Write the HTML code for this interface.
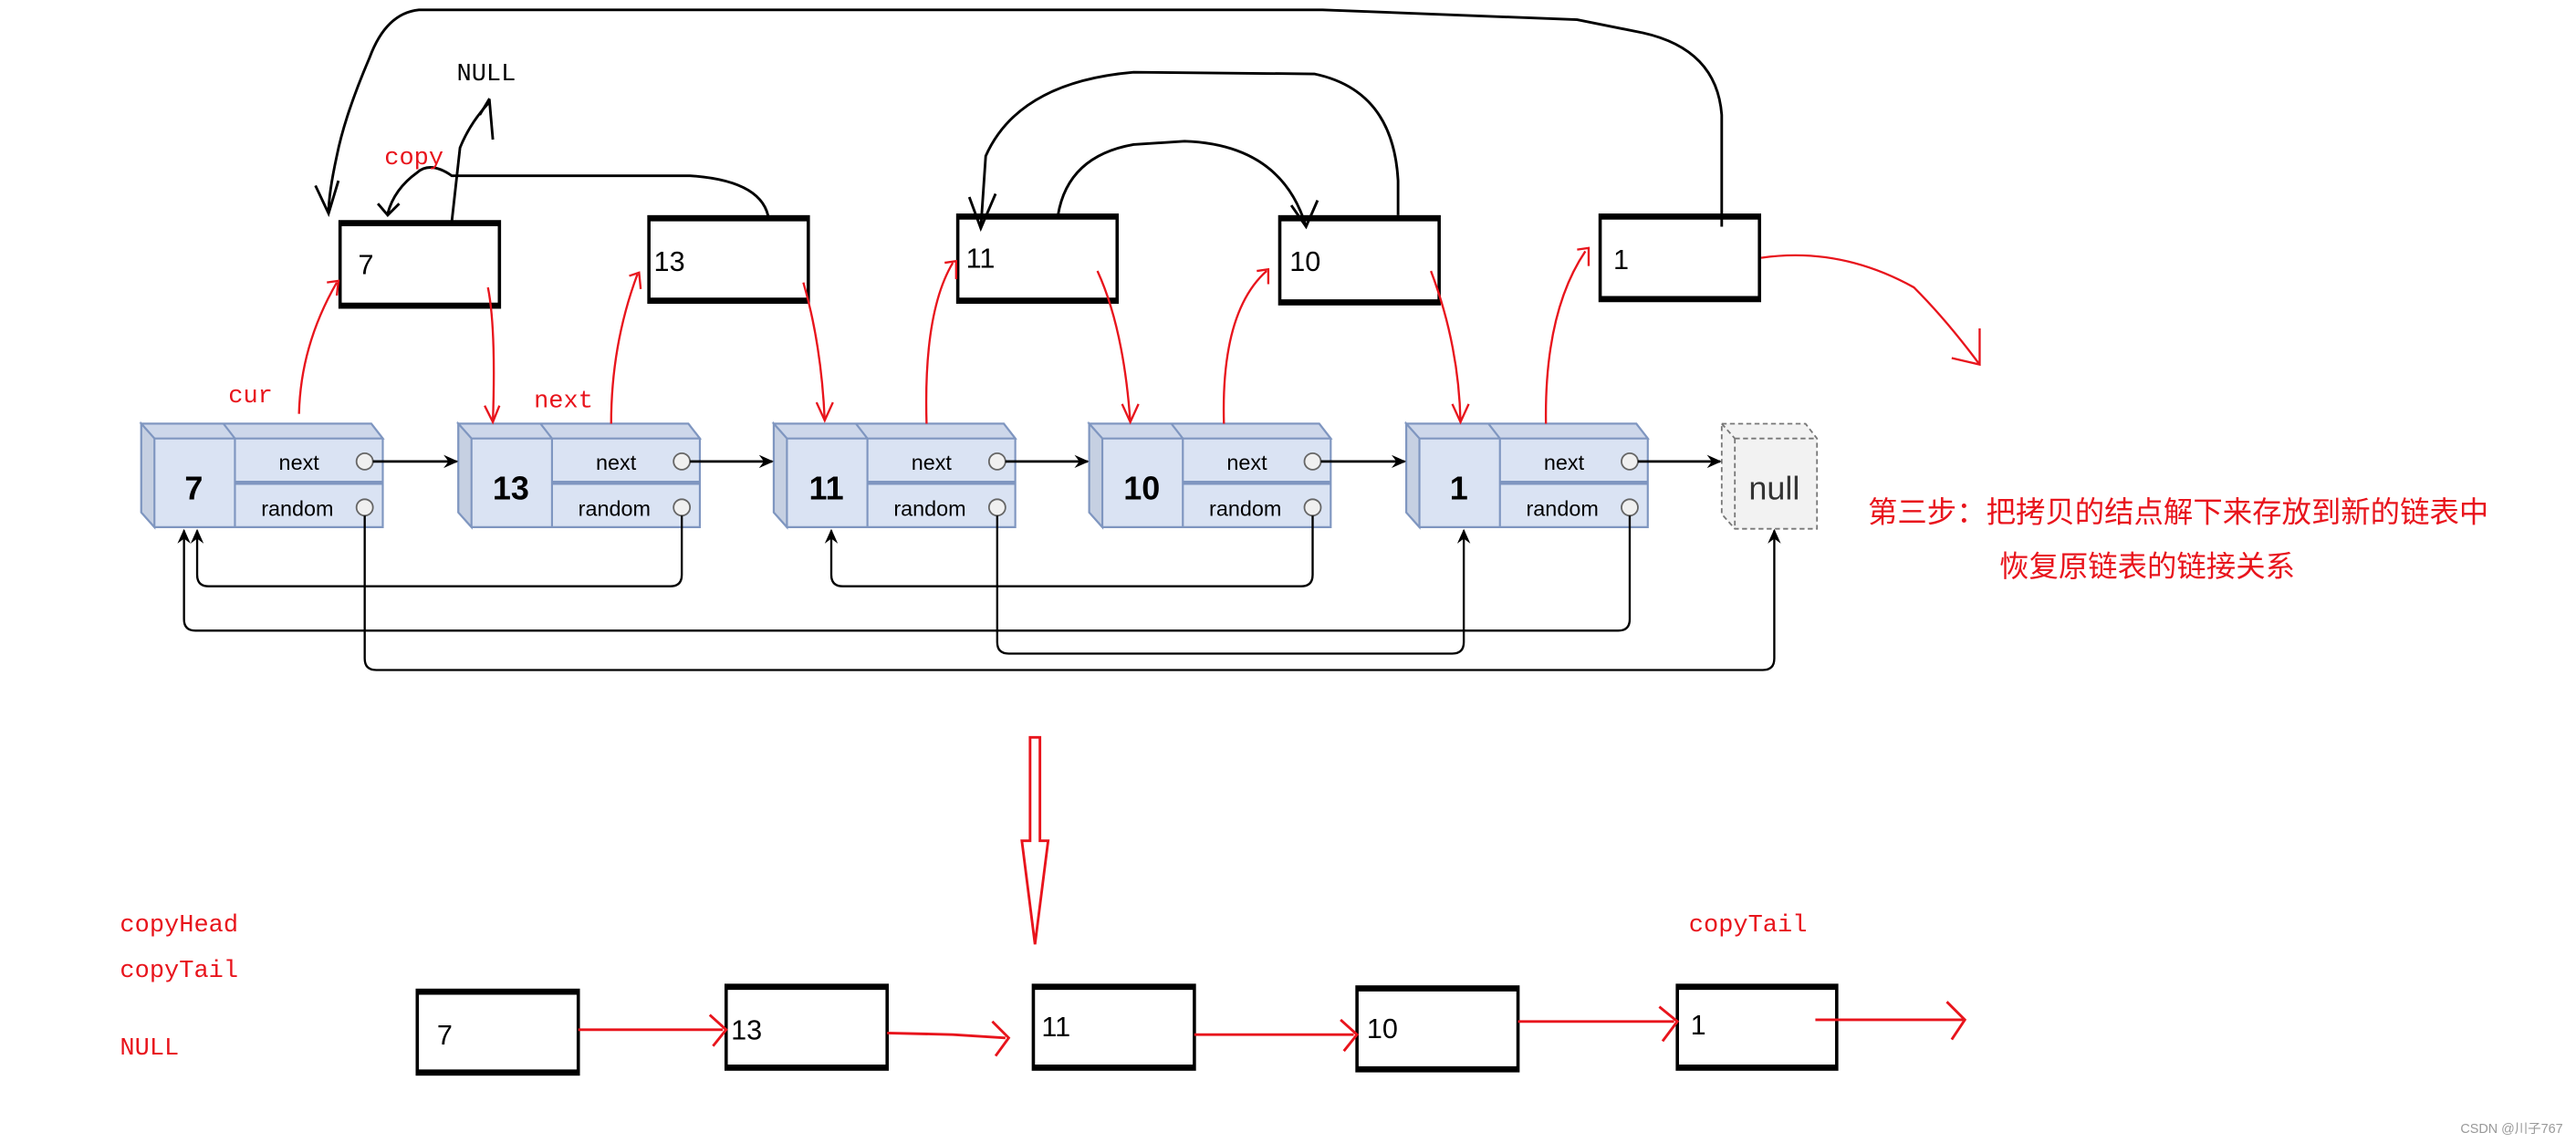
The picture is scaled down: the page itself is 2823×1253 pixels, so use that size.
<!DOCTYPE html>
<html><head><meta charset="utf-8"><style>
html,body{margin:0;padding:0;background:#fff;}
svg{display:block;}
</style></head><body>
<svg width="2823" height="1253" viewBox="0 0 1568 696" preserveAspectRatio="none" xmlns="http://www.w3.org/2000/svg">
<defs>
<marker id="ab" markerWidth="10" markerHeight="10" refX="8" refY="5" orient="auto" markerUnits="userSpaceOnUse"><path d="M0,1 L9,5 L0,9 L3,5 z" fill="#000"/></marker>
<g id="node">
  <path d="M0,0 L140,0 L147,9 L147,63 L8,63 L0,54 z" fill="#dae3f3" stroke="#7f96c0" stroke-width="1.2"/>
  <path d="M0,0 L140,0 L147,9 L8,9 z" fill="#cdd7ea" stroke="#7f96c0" stroke-width="1.2"/>
  <path d="M0,0 L8,9 L8,63 L0,54 z" fill="#c6d0e2" stroke="#7f96c0" stroke-width="1.2"/>
  <line x1="57" y1="9" x2="57" y2="63" stroke="#7f96c0" stroke-width="1.2"/>
  <line x1="50" y1="0" x2="57" y2="9" stroke="#7f96c0" stroke-width="1.2"/>
  <line x1="57" y1="36" x2="147" y2="36" stroke="#7f96c0" stroke-width="2.5"/>
  <text x="96" y="28" font-family="Liberation Sans, sans-serif" font-size="13" text-anchor="middle">next</text>
  <text x="95" y="56" font-family="Liberation Sans, sans-serif" font-size="13" text-anchor="middle">random</text>
  <circle cx="136" cy="23" r="5" fill="#f0f0f0" stroke="#666"/>
  <circle cx="136" cy="51" r="5" fill="#f0f0f0" stroke="#666"/>
</g>
</defs>

<g transform="translate(86,258)"><use href="#node"/><text x="32" y="46" font-family="Liberation Sans, sans-serif" font-size="20" font-weight="bold" text-anchor="middle">7</text></g>
<g transform="translate(279,258)"><use href="#node"/><text x="32" y="46" font-family="Liberation Sans, sans-serif" font-size="20" font-weight="bold" text-anchor="middle">13</text></g>
<g transform="translate(471,258)"><use href="#node"/><text x="32" y="46" font-family="Liberation Sans, sans-serif" font-size="20" font-weight="bold" text-anchor="middle">11</text></g>
<g transform="translate(663,258)"><use href="#node"/><text x="32" y="46" font-family="Liberation Sans, sans-serif" font-size="20" font-weight="bold" text-anchor="middle">10</text></g>
<g transform="translate(856,258)"><use href="#node"/><text x="32" y="46" font-family="Liberation Sans, sans-serif" font-size="20" font-weight="bold" text-anchor="middle">1</text></g>
<path d="M1048,258 L1099,258 L1106,267 L1106,322 L1056,322 L1048,313 z" fill="#f2f2f2" stroke="#777" stroke-dasharray="3,2"/>
<line x1="1048" y1="258" x2="1056" y2="267" stroke="#777" stroke-dasharray="3,2"/>
<line x1="1056" y1="267" x2="1106" y2="267" stroke="#777" stroke-dasharray="3,2"/>
<line x1="1056" y1="267" x2="1056" y2="322" stroke="#777" stroke-dasharray="3,2"/>
<text x="1080" y="304" font-family="Liberation Sans, sans-serif" font-size="20" text-anchor="middle" fill="#333">null</text>

<g stroke="#000" stroke-width="1.5" fill="none" marker-end="url(#ab)">
<line x1="227" y1="281" x2="278" y2="281"/>
<line x1="420" y1="281" x2="470" y2="281"/>
<line x1="612" y1="281" x2="662" y2="281"/>
<line x1="804" y1="281" x2="855" y2="281"/>
<line x1="997" y1="281" x2="1047" y2="281"/>
</g>
<g stroke="#000" stroke-width="1.3" fill="none" marker-end="url(#ab)">
<path d="M415,314 L415,350 Q415,357 408,357 L127,357 Q120,357 120,350 L120,323"/>
<path d="M992,314 L992,377 Q992,384 985,384 L119,384 Q112,384 112,377 L112,323"/>
<path d="M222,314 L222,401 Q222,408 229,408 L1073,408 Q1080,408 1080,401 L1080,323"/>
<path d="M799,314 L799,350 Q799,357 792,357 L513,357 Q506,357 506,350 L506,323"/>
<path d="M607,314 L607,391 Q607,398 614,398 L884,398 Q891,398 891,391 L891,323"/>
</g>

<g fill="#fff" stroke="#000" stroke-width="2">
<rect x="207" y="135" width="97" height="52"/>
<rect x="395" y="132" width="97" height="52"/>
<rect x="583" y="131" width="97" height="53"/>
<rect x="779" y="132" width="97" height="53"/>
<rect x="974" y="131" width="97" height="52"/>
</g>
<g stroke="#000" stroke-width="3.5">
<line x1="207" y1="136" x2="304" y2="136"/><line x1="207" y1="186" x2="304" y2="186"/>
<line x1="395" y1="133" x2="492" y2="133"/><line x1="395" y1="183" x2="492" y2="183"/>
<line x1="583" y1="132" x2="680" y2="132"/><line x1="583" y1="183" x2="680" y2="183"/>
<line x1="779" y1="133" x2="876" y2="133"/><line x1="779" y1="184" x2="876" y2="184"/>
<line x1="974" y1="132" x2="1071" y2="132"/><line x1="974" y1="182" x2="1071" y2="182"/>
</g>
<g font-family="Liberation Sans, sans-serif" font-size="17">
<text x="218" y="167">7</text><text x="398" y="165">13</text><text x="588" y="163">11</text><text x="785" y="165">10</text><text x="982" y="164">1</text>
</g>

<g stroke="#000" stroke-width="1.6" fill="none">
<path d="M1048,138 L1048,70 Q1045,30 1000,20 L960,12 L805,6 L255,6 Q235,8 225,35 Q210,70 205,95 Q200,118 200,130"/>
<path d="M192,113 L200,130 L206,110"/>
<path d="M851,131 L851,110 Q848,55 800,45 L690,44 Q620,50 600,95 L597,139"/>
<path d="M590,120 L597,139 L606,118"/>
<path d="M644,131 Q650,95 690,88 L721,86 Q780,88 795,138"/>
<path d="M786,125 L795,138 L802,122"/>
<path d="M468,134 Q465,110 420,107 L275,107 Q262,98 254,105 Q240,115 236,130"/>
<path d="M230,124 L236,131 L243,124"/>
<path d="M275,135 L280,90 Q286,75 298,62 L300,85"/>
<path d="M292,70 L298,60"/>
</g>
<text x="278" y="49" font-family="Liberation Mono, monospace" font-size="15">NULL</text>

<g stroke="#e8141c" stroke-width="1.3" fill="none">
<path d="M182,252 Q183,210 205,172"/><path d="M199,172 L206,171 L205,180"/>
<path d="M297,175 Q302,200 300,257"/><path d="M295,247 L300,257 L304,247"/>
<path d="M372,258 Q372,210 388,167"/><path d="M383,168 L389,166 L390,176"/>
<path d="M489,172 Q500,210 502,256"/><path d="M497,245 L502,256 L507,245"/>
<path d="M564,258 Q562,190 580,160"/><path d="M575,160 L582,159 L582,170"/>
<path d="M668,165 Q684,200 688,257"/><path d="M683,246 L688,257 L693,246"/>
<path d="M745,258 Q743,190 771,165"/><path d="M765,165 L772,164 L772,173"/>
<path d="M871,165 Q888,210 889,257"/><path d="M884,246 L889,257 L894,246"/>
<path d="M941,258 Q940,190 965,153"/><path d="M960,152 L967,151 L967,162"/>
<path d="M1072,157 Q1120,150 1165,175 Q1185,195 1205,222"/><path d="M1188,218 L1205,222 L1205,200"/>
</g>
<g font-family="Liberation Mono, monospace" font-size="15" fill="#e8141c">
<text x="139" y="245">cur</text><text x="325" y="248">next</text><text x="234" y="100">copy</text>
</g>

<text x="1137" y="318" font-family="'Noto Sans CJK SC', sans-serif" font-size="18" fill="#e8141c">第三步：把拷贝的结点解下来存放到新的链表中</text>
<text x="1217" y="351" font-family="'Noto Sans CJK SC', sans-serif" font-size="18" fill="#e8141c">恢复原链表的链接关系</text>

<path d="M627,449 L633,449 L633,512 L638,512 L630,575 L622,512 L627,512 z" fill="none" stroke="#e8141c" stroke-width="1.6"/>

<g fill="#fff" stroke="#000" stroke-width="2">
<rect x="254" y="603" width="98" height="51"/>
<rect x="442" y="600" width="98" height="51"/>
<rect x="629" y="600" width="98" height="51"/>
<rect x="826" y="601" width="98" height="51"/>
<rect x="1021" y="600" width="97" height="51"/>
</g>
<g stroke="#000" stroke-width="3.5">
<line x1="254" y1="604" x2="352" y2="604"/><line x1="254" y1="653" x2="352" y2="653"/>
<line x1="442" y1="601" x2="540" y2="601"/><line x1="442" y1="650" x2="540" y2="650"/>
<line x1="629" y1="601" x2="727" y2="601"/><line x1="629" y1="650" x2="727" y2="650"/>
<line x1="826" y1="602" x2="924" y2="602"/><line x1="826" y1="651" x2="924" y2="651"/>
<line x1="1021" y1="601" x2="1118" y2="601"/><line x1="1021" y1="650" x2="1118" y2="650"/>
</g>
<g font-family="Liberation Sans, sans-serif" font-size="17">
<text x="266" y="636">7</text><text x="445" y="633">13</text><text x="634" y="631">11</text><text x="832" y="632">10</text><text x="1029" y="630">1</text>
</g>
<g stroke="#e8141c" stroke-width="1.6" fill="none">
<line x1="352" y1="627" x2="440" y2="627"/><path d="M432,618 L442,627 L434,637"/>
<path d="M540,629 L580,630 L612,632"/><path d="M604,622 L614,632 L606,643"/>
<line x1="727" y1="630" x2="824" y2="630"/><path d="M816,621 L826,630 L818,640"/>
<line x1="924" y1="622" x2="1019" y2="622"/><path d="M1010,613 L1021,622 L1012,634"/>
<line x1="1105" y1="621" x2="1195" y2="621"/><path d="M1185,610 L1196,621 L1188,633"/>
</g>
<g font-family="Liberation Mono, monospace" font-size="15" fill="#e8141c">
<text x="73" y="567">copyHead</text><text x="73" y="595">copyTail</text><text x="73" y="642">NULL</text><text x="1028" y="567">copyTail</text>
</g>
<text x="1560" y="690" font-family="Liberation Sans, 'Noto Sans CJK SC', sans-serif" font-size="8" fill="#999" text-anchor="end">CSDN @川子767</text>
</svg>
</body></html>
